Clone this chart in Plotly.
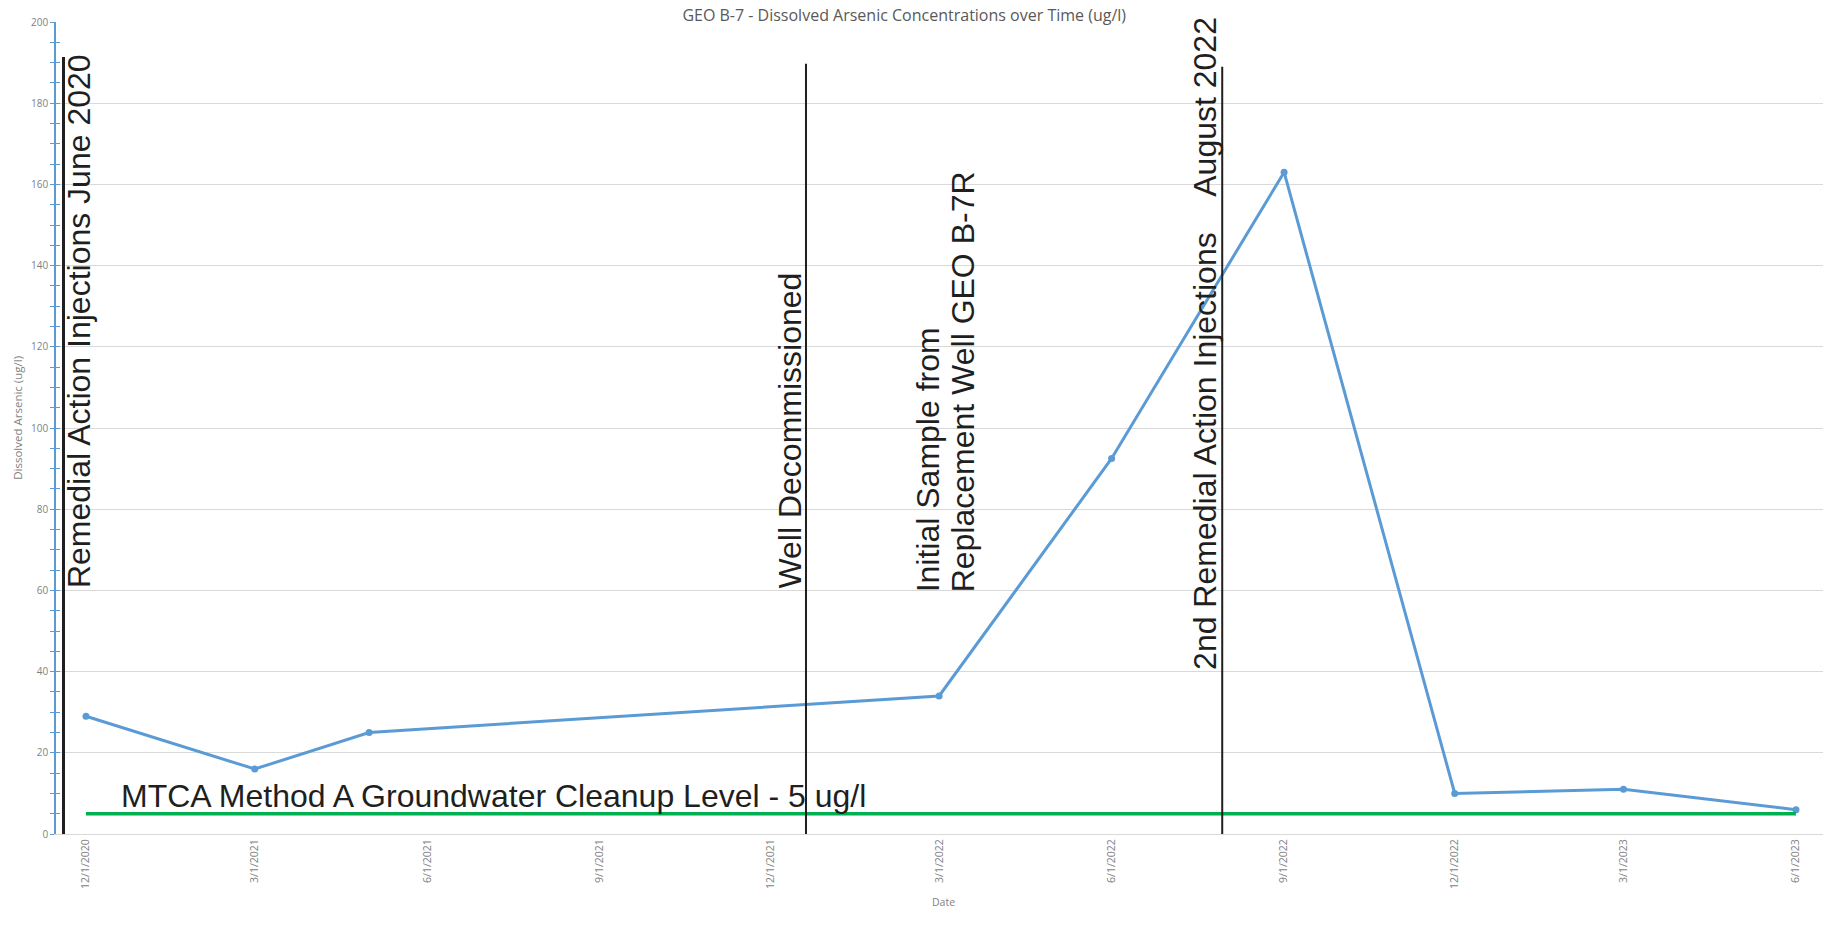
import plotly.graph_objects as go

# Sampling results for GEO B-7 / B-7R
sample_dates = ["2020-12-01", "2021-03-01", "2021-05-01", "2022-03-01", "2022-06-01",
                "2022-09-01", "2022-12-01", "2023-03-01", "2023-06-01"]
arsenic_ugl = [29, 16, 25, 34, 92.5, 163, 10, 11, 6]

# MTCA Method A cleanup level
cleanup_dates = ["2020-12-01", "2023-06-01"]
cleanup_level = [5, 5]

# Event markers: date, top of line (ug/l)
event_dates = ["2020-11-19", "2021-12-20", "2022-07-30"]
event_tops = [191.4, 189.7, 189.0]

tick_dates = ["2020-12-01", "2021-03-01", "2021-06-01", "2021-09-01", "2021-12-01", "2022-03-01",
              "2022-06-01", "2022-09-01", "2022-12-01", "2023-03-01", "2023-06-01"]
tick_labels = ["12/1/2020", "3/1/2021", "6/1/2021", "9/1/2021", "12/1/2021", "3/1/2022",
               "6/1/2022", "9/1/2022", "12/1/2022", "3/1/2023", "6/1/2023"]

BLUE = "#5b9bd5"
GREEN = "#00b050"
GRID = "#d9d9d9"
LABEL = "#7f7f7f"
INK = "#1f1f1f"
BIG = dict(family="Liberation Sans, Arial, sans-serif", size=32, color=INK)
SMALL = "Open Sans, sans-serif"

fig = go.Figure()

fig.add_trace(go.Scatter(
    x=sample_dates, y=arsenic_ugl, mode="lines+markers",
    line=dict(color=BLUE, width=3), marker=dict(color=BLUE, size=7),
    showlegend=False, cliponaxis=False,
))

fig.add_trace(go.Scatter(
    x=cleanup_dates, y=cleanup_level, mode="lines", yaxis="y2",
    line=dict(color=GREEN, width=3.5), showlegend=False,
))

# vertical event lines
widths = [3, 2, 2]
for d, top, w in zip(event_dates, event_tops, widths):
    fig.add_shape(type="line", xref="x", yref="y", x0=d, x1=d, y0=0, y1=top,
                  line=dict(color=INK, width=w), layer="above")

# rotated event labels (text runs bottom-to-top, starting at y)
def vlabel(text, date, xshift, y):
    fig.add_annotation(text=text, xref="x", yref="y", x=date, y=y, xshift=xshift,
                       textangle=-90, xanchor="center", yanchor="bottom",
                       showarrow=False, font=BIG, borderpad=0)

vlabel("Remedial Action Injections June 2020", event_dates[0], 15, 60.2)
vlabel("Well Decommissioned", event_dates[1], -16, 60.2)
vlabel("Initial Sample from", event_dates[1], 122, 59.4)
vlabel("Replacement Well GEO B-7R", event_dates[1], 157, 59.4)
vlabel("2nd Remedial Action Injections" + "\u00a0" * 4 + "August 2022", event_dates[2], -18, 40.1)

fig.add_annotation(text="MTCA Method A Groundwater Cleanup Level - 5 ug/l",
                   xref="x", yref="y", x=cleanup_dates[0], y=cleanup_level[0],
                   xshift=34, yshift=18, xanchor="left", yanchor="middle",
                   showarrow=False, font=BIG, borderpad=0)

# axis titles
fig.add_annotation(text="Dissolved Arsenic (ug/l)", xref="paper", yref="paper",
                   x=0, y=0.512, xshift=-38.5, textangle=-90, xanchor="center", yanchor="middle",
                   showarrow=False, font=dict(family=SMALL, size=11.5, color=LABEL))
fig.add_annotation(text="Date", xref="paper", yref="paper", x=0.5025, y=-0.0837,
                   xanchor="center", yanchor="middle", showarrow=False,
                   font=dict(family=SMALL, size=10.5, color=LABEL))

yax = dict(range=[0, 200], dtick=20, tick0=0)
fig.update_layout(
    width=1823, height=943,
    margin=dict(l=56, r=0, t=22, b=109),
    paper_bgcolor="white", plot_bgcolor="white",
    title=dict(text="GEO B-7 - Dissolved Arsenic Concentrations over Time (ug/l)",
               xref="container", yref="container", x=0.496, y=0.984,
               xanchor="center", yanchor="middle",
               font=dict(family=SMALL, size=16, color="#595959")),
    xaxis=dict(
        type="date", range=["2020-11-15", "2023-06-15 10:00"],
        tickmode="array", tickvals=tick_dates, ticktext=tick_labels, tickangle=-90,
        ticks="", showgrid=False, showline=True, linecolor=GRID, linewidth=1,
        tickfont=dict(family=SMALL, size=10.5, color=LABEL), zeroline=False,
    ),
    yaxis=dict(
        **yax, showgrid=True, gridcolor=GRID, gridwidth=1,
        zeroline=True, zerolinecolor=GRID, zerolinewidth=1,
        showline=True, linecolor=BLUE, linewidth=1.5,
        ticks="outside", ticklen=4, tickcolor=BLUE, tickwidth=1.2,
        minor=dict(ticks="outside", dtick=5, ticklen=4, tickcolor=BLUE, tickwidth=1.2, showgrid=False),
        tickfont=dict(family=SMALL, size=10, color=LABEL),
    ),
    yaxis2=dict(
        **yax, overlaying="y", side="left", showgrid=False, zeroline=False,
        showline=False, showticklabels=False,
        ticks="inside", ticklen=4, tickcolor=BLUE, tickwidth=1.2,
        minor=dict(ticks="inside", dtick=5, ticklen=4, tickcolor=BLUE, tickwidth=1.2, showgrid=False),
    ),
)

fig.write_html("out.html")
